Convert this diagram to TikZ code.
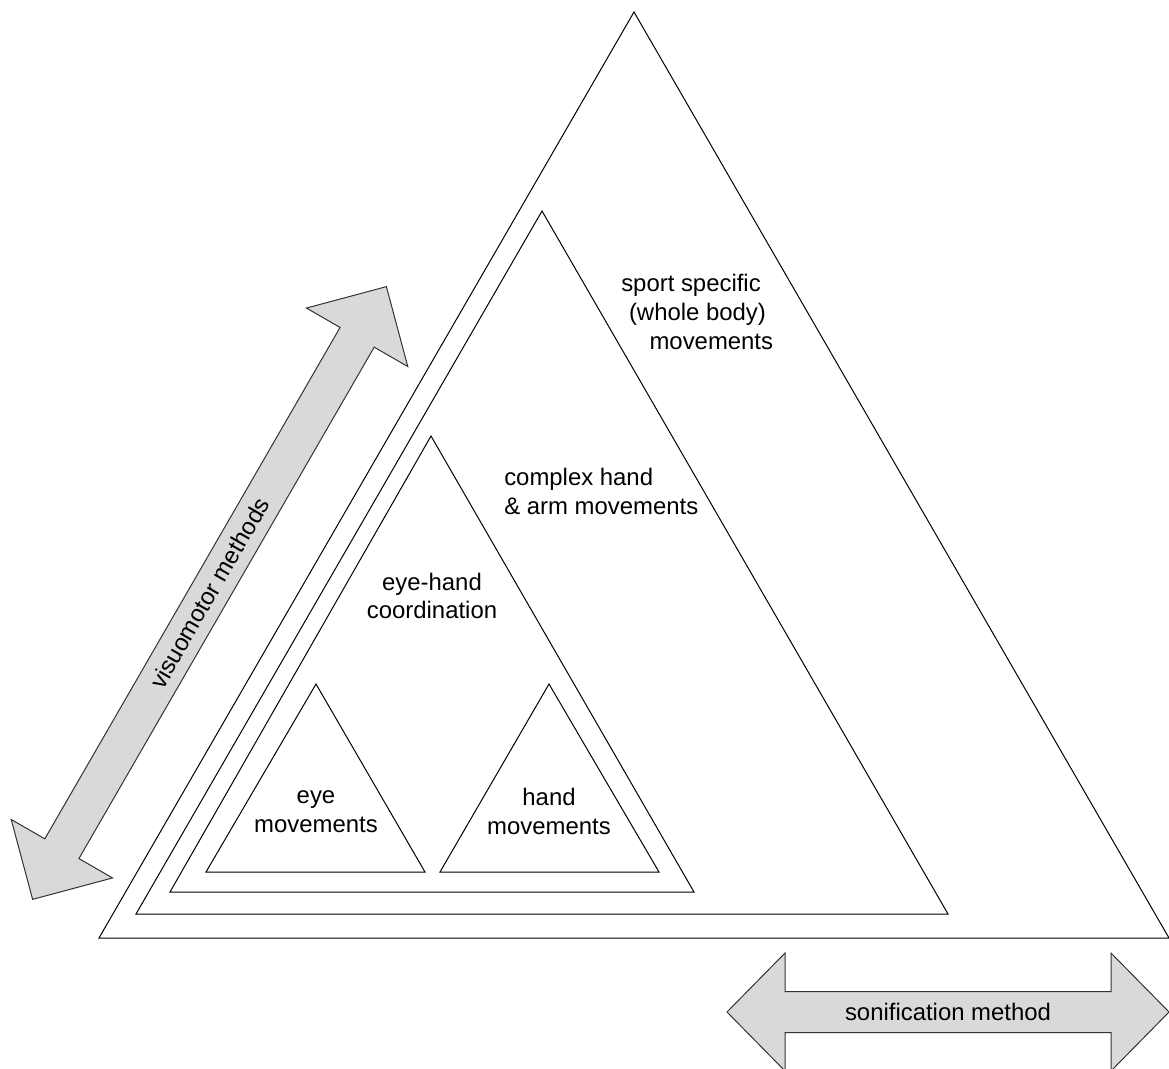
\documentclass[tikz,border=0pt]{standalone}
\usepackage{fontspec}
\setmainfont{Liberation Sans}
\begin{document}
\begin{tikzpicture}[x=0.025cm,y=0.025cm,
    tri/.style={line width=0.025cm, line join=miter},
    blockarrow/.style={line width=0.025cm, draw=black!80, fill=black!15, line join=miter},
    lbl/.style={inner sep=0pt, align=center, font=\fontsize{17pt}{20.3pt}\selectfont}]
            \useasboundingbox (0,0) rectangle (1169,1068);

            % Drawing outer triangle
            \draw [tri] (634,1056) -- (99,130) -- (1169,130) -- cycle;%

            % Drawing second triangle
            \draw [tri] (542,857) -- (136,154) -- (948,154) -- cycle;%

            % Drawing third triangle
            \draw [tri] (431,632) -- (170,176) -- (694,176) -- cycle;%

            % Drawing the two small triangles
            \draw [tri] (316,384) -- (206,196) -- (425,196) -- cycle;%
            \draw [tri] (549,384) -- (440,196) -- (659,196) -- cycle;%

            % Drawing arrow for visuomotor methods
            \begin{scope}[shift={(209.5,475)}, rotate=60]
            \draw [blockarrow] (353.75,0) -- (295.25,58.5) -- (295.25,19.7) -- (-295.25,19.7)
                -- (-295.25,58.5) -- (-353.75,0) -- (-295.25,-58.5) -- (-295.25,-19.7)
                -- (295.25,-19.7) -- (295.25,-58.5) -- cycle;%
            \end{scope}
            \node [lbl, rotate=60] (visuo) at (209.5,475) {visuomotor methods};%

            % Drawing arrow for sonification method
            \begin{scope}[shift={(948,56)}]
            \draw [blockarrow] (221,0) -- (163,59) -- (163,20.5) -- (-163,20.5)
                -- (-163,59) -- (-221,0) -- (-163,-59) -- (-163,-20.5)
                -- (163,-20.5) -- (163,-59) -- cycle;%
            \end{scope}
            \node [lbl] (sonif) at (948,56) {sonification method};%

            % Marking the texts
            \node [lbl] (sport) at (691,756) {sport specific\\\hspace*{0.54em}(whole body)\\\hspace*{1.7em}movements};%
            \node [lbl, align=left, anchor=west] (complex) at (504,576.5) {complex hand\\\& arm movements};%
            \node [lbl] (eyehand) at (432,472) {eye-hand\\coordination};%
            \node [lbl] (eyemov) at (316,256.5) {eye\\movements};%
            \node [lbl] (handmov) at (549,256.5) {hand\\movements};%
        \end{tikzpicture}
\end{document}
